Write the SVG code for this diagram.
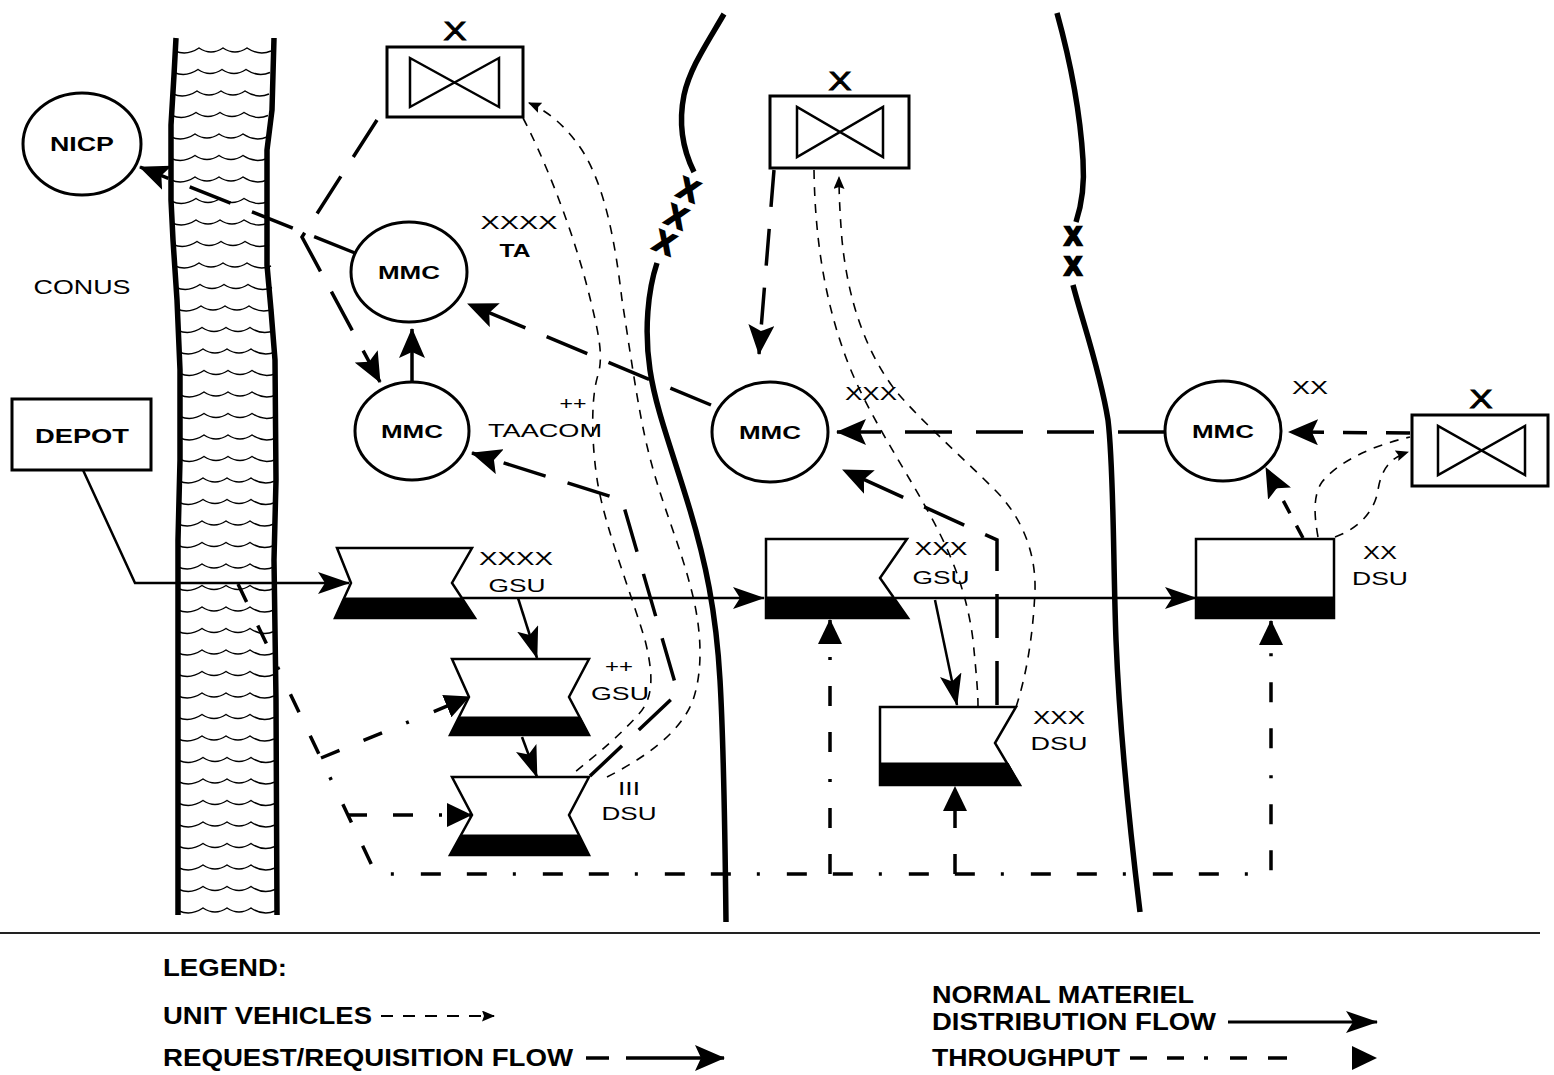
<svg xmlns="http://www.w3.org/2000/svg" xmlns:xlink="http://www.w3.org/1999/xlink" width="1554" height="1075" viewBox="0 0 1554 1075">
<defs>
<style>
.edge{fill:none;stroke:#000;stroke-width:5.5;stroke-linejoin:round}
.bnd{fill:none;stroke:#000;stroke-width:5.5;stroke-linecap:butt}
.node{fill:#fff;stroke:#000;stroke-width:3}
.unit{fill:#fff;stroke:#000;stroke-width:2.5;stroke-linejoin:miter}
.band{fill:#000;stroke:#000;stroke-width:1}
.bow{fill:none;stroke:#000;stroke-width:2.5;stroke-linejoin:miter}
.req{fill:none;stroke:#000;stroke-width:3.5;stroke-dasharray:44 23}
.reqs{fill:none;stroke:#000;stroke-width:3.5}
.flow{fill:none;stroke:#000;stroke-width:2.5}
.thru{fill:none;stroke:#000;stroke-width:3.5;stroke-dasharray:20 26 20 26 3 27}
.uv{fill:none;stroke:#000;stroke-width:1.6;stroke-dasharray:9 8}
.rule{stroke:#222;stroke-width:2}
text{font-family:"Liberation Sans",Arial,sans-serif;fill:#000}
.c{text-anchor:middle}
.b{font-weight:bold}
.lbl{font-size:19px}
.mmc{font-size:19px;font-weight:bold}
.ech{font-size:26px;stroke:#000;stroke-width:0.9}
.bx{font-size:30px;font-weight:bold;stroke:#000;stroke-width:2}
.bx2{font-size:25px;font-weight:bold;stroke:#000;stroke-width:2.6}
.leg{font-size:23px;font-weight:bold}
</style>
<marker id="mReq" markerUnits="userSpaceOnUse" markerWidth="30" markerHeight="26" refX="29" refY="13" orient="auto"><path d="M0,0 L30,13 L0,26 L6,13 Z" fill="#000"/></marker>
<marker id="mFlow" markerUnits="userSpaceOnUse" markerWidth="32" markerHeight="22" refX="31" refY="11" orient="auto"><path d="M0,0 L32,11 L0,22 L7,11 Z" fill="#000"/></marker>
<marker id="mThru" markerUnits="userSpaceOnUse" markerWidth="25" markerHeight="24" refX="24" refY="12" orient="auto"><path d="M0,0 L25,12 L0,24 Z" fill="#000"/></marker>
<marker id="mUv" markerUnits="userSpaceOnUse" markerWidth="13" markerHeight="11" refX="12" refY="5.5" orient="auto"><path d="M0,0 L13,5.5 L0,11 L2,5.5 Z" fill="#000"/></marker>
<path id="wave" d="M0,1 Q12,6 24,-2 Q36,6 48,-2 Q60,6 72,-2 Q84,6 96,1" fill="none" stroke="#000" stroke-width="1.5"/>
</defs>
<rect x="0" y="0" width="1554" height="1075" fill="#fff"/>

<g id="ocean">
<path class="edge" d="M176,38 L174,75 L171,125 L171,200 L173,240 L177,300 L180,370 L180,460 L178,540 L178,915"/>
<path class="edge" d="M274,38 L272,110 L267,150 L267,265 L271,310 L275,360 L276,480 L274,560 L276,700 L277,915"/>
<use xlink:href="#wave" x="175" y="50"/>
<use xlink:href="#wave" x="174" y="71.5"/>
<use xlink:href="#wave" x="173" y="93"/>
<use xlink:href="#wave" x="172" y="114.5"/>
<use xlink:href="#wave" x="171" y="136"/>
<use xlink:href="#wave" x="171" y="157.5"/>
<use xlink:href="#wave" x="171" y="179"/>
<use xlink:href="#wave" x="172" y="200.5"/>
<use xlink:href="#wave" x="172" y="222"/>
<use xlink:href="#wave" x="173" y="243.5"/>
<use xlink:href="#wave" x="175" y="265"/>
<use xlink:href="#wave" x="176" y="286.5"/>
<use xlink:href="#wave" x="177" y="308"/>
<use xlink:href="#wave" x="178" y="329.5"/>
<use xlink:href="#wave" x="179" y="351"/>
<use xlink:href="#wave" x="180" y="372.5"/>
<use xlink:href="#wave" x="180" y="394"/>
<use xlink:href="#wave" x="180" y="415.5"/>
<use xlink:href="#wave" x="180" y="437"/>
<use xlink:href="#wave" x="180" y="458.5"/>
<use xlink:href="#wave" x="179" y="480"/>
<use xlink:href="#wave" x="179" y="501.5"/>
<use xlink:href="#wave" x="178" y="523"/>
<use xlink:href="#wave" x="178" y="544.5"/>
<use xlink:href="#wave" x="178" y="566"/>
<use xlink:href="#wave" x="178" y="587.5"/>
<use xlink:href="#wave" x="178" y="609"/>
<use xlink:href="#wave" x="178" y="630.5"/>
<use xlink:href="#wave" x="178" y="652"/>
<use xlink:href="#wave" x="178" y="673.5"/>
<use xlink:href="#wave" x="178" y="695"/>
<use xlink:href="#wave" x="178" y="716.5"/>
<use xlink:href="#wave" x="178" y="738"/>
<use xlink:href="#wave" x="179" y="759.5"/>
<use xlink:href="#wave" x="179" y="781"/>
<use xlink:href="#wave" x="179" y="802.5"/>
<use xlink:href="#wave" x="179" y="824"/>
<use xlink:href="#wave" x="179" y="845.5"/>
<use xlink:href="#wave" x="179" y="867"/>
<use xlink:href="#wave" x="179" y="888.5"/>
<use xlink:href="#wave" x="179" y="910"/>
</g>

<g id="boundary-xxx">
<path class="bnd" d="M724,14 C706,45 690,68 684,95 C678,125 683,150 694,172"/>
<path class="bnd" d="M657,263 C648,290 644,330 650,370 C656,410 672,450 690,510 C705,560 716,610 720,680 C724,750 725,830 726,922"/>
<text class="bx c" x="689" y="200" transform="rotate(22 689 189)">X</text>
<text class="bx c" x="677" y="227" transform="rotate(22 677 216)">X</text>
<text class="bx c" x="665" y="253" transform="rotate(22 665 242)">X</text>
</g>

<g id="boundary-xx">
<path class="bnd" d="M1057,13 C1070,60 1080,110 1083,160 C1085,190 1080,210 1076,222"/>
<path class="bnd" d="M1073,285 C1082,320 1100,370 1108,420 C1114,470 1113,560 1116,640 C1120,740 1130,830 1140,912"/>
<text class="bx2 c" x="1073" y="245">X</text>
<text class="bx2 c" x="1073" y="275">X</text>
</g>

<g id="connectors">
<!-- request / requisition flow -->
<path class="req" d="M355,253 L140,167" marker-end="url(#mReq)"/>
<path class="req" d="M377,120 L302,237 L380,382" marker-end="url(#mReq)"/>
<path class="reqs" d="M412,382 L412,329" marker-end="url(#mReq)"/>
<path class="req" d="M711,405 L468,304" marker-end="url(#mReq)"/>
<path class="req" d="M590,776 L678,693 L622,500 L472,453" marker-end="url(#mReq)"/>
<path class="req" d="M774,170 L759,354" marker-end="url(#mReq)" style="stroke-dasharray:37 22"/>
<path class="req" d="M997,705 L997,540 L843,470" marker-end="url(#mReq)"/>
<path class="req" d="M1410,433 L1289,432" marker-end="url(#mReq)" style="stroke-dasharray:24 19"/>
<path class="req" d="M1165,432 L837,432" marker-end="url(#mReq)" style="stroke-dasharray:47 24"/>
<path class="req" d="M1303,538 L1266,468" marker-end="url(#mReq)" style="stroke-dasharray:14 14"/>
<!-- normal materiel distribution flow -->
<path class="flow" d="M83,470 L135,583 L349,583" marker-end="url(#mFlow)"/>
<path class="flow" d="M460,598 L764,598" marker-end="url(#mFlow)"/>
<path class="flow" d="M895,598 L1196,598" marker-end="url(#mFlow)"/>
<path class="flow" d="M518,598 L537,658" marker-end="url(#mFlow)"/>
<path class="flow" d="M522,737 L537,777" marker-end="url(#mFlow)"/>
<path class="flow" d="M935,600 L957,705" marker-end="url(#mFlow)"/>
<!-- throughput -->
<path class="thru" d="M238,584 L376,874 L1271,874 L1271,621" marker-end="url(#mThru)"/>
<path class="thru" d="M830,874 L830,620" marker-end="url(#mThru)"/>
<path class="thru" d="M955,874 L955,787" marker-end="url(#mThru)"/>
<path class="thru" d="M321,758 L469,697" marker-end="url(#mThru)"/>
<path class="thru" d="M347,815 L471,815" marker-end="url(#mThru)"/>
<!-- unit vehicles -->
<path class="uv" d="M523,118 C540,150 570,220 588,290 C598,330 604,355 598,375 C590,400 592,450 598,485 C606,530 630,590 645,640 C655,680 652,700 638,715 C620,735 600,752 570,776"/>
<path class="uv" d="M607,777 C640,760 680,735 693,700 C705,665 700,620 690,585 C680,545 660,500 648,450 C638,410 630,350 622,300 C615,240 605,190 585,155 C570,130 550,112 529,103" marker-end="url(#mUv)"/>
<path class="uv" d="M814,170 C815,240 825,300 845,355 C865,410 900,460 930,515 C955,560 968,600 973,640 C977,680 978,695 978,706"/>
<path class="uv" d="M1016,707 C1025,680 1033,640 1035,590 C1036,550 1020,515 995,490 C960,455 920,420 895,390 C865,350 848,300 842,240 C840,215 839,195 839,177" marker-end="url(#mUv)"/>
<path class="uv" d="M1318,537 C1314,515 1313,495 1322,482 C1340,460 1375,445 1410,437"/>
<path class="uv" d="M1335,537 C1360,528 1375,510 1378,490 C1381,470 1390,458 1408,452" marker-end="url(#mUv)"/>
</g>

<g id="nicp">
<ellipse class="node" cx="82" cy="144" rx="59" ry="51"/>
<text class="c b" x="82" y="151" font-size="20" textLength="64" lengthAdjust="spacingAndGlyphs">NICP</text>
</g>
<g id="conus">
<text class="c" x="82" y="294" font-size="20" textLength="97" lengthAdjust="spacingAndGlyphs">CONUS</text>
</g>
<g id="depot">
<rect class="node" x="12" y="399" width="139" height="71"/>
<text class="c b" x="82" y="443" font-size="20" textLength="94" lengthAdjust="spacingAndGlyphs">DEPOT</text>
</g>

<g id="bde-ta">
<rect class="node" x="387" y="47" width="136" height="70"/>
<path class="bow" d="M410,58 L410,107 L499,58 L499,107 Z"/>
<text class="c ech" x="455" y="40" textLength="23" lengthAdjust="spacingAndGlyphs">X</text>
</g>
<g id="mmc-ta">
<ellipse class="node" cx="409" cy="272" rx="58" ry="50"/>
<text class="c mmc" x="409" y="279" textLength="62" lengthAdjust="spacingAndGlyphs">MMC</text>
<text class="c lbl" x="519" y="229" textLength="77" lengthAdjust="spacingAndGlyphs">XXXX</text>
<text class="c lbl b" x="515" y="257" textLength="31" lengthAdjust="spacingAndGlyphs">TA</text>
</g>
<g id="mmc-taacom">
<ellipse class="node" cx="412" cy="431" rx="57" ry="49"/>
<text class="c mmc" x="412" y="438" textLength="62" lengthAdjust="spacingAndGlyphs">MMC</text>
<text class="c lbl" x="573" y="410" textLength="27" lengthAdjust="spacingAndGlyphs">++</text>
<text class="c lbl" x="545" y="437" textLength="114" lengthAdjust="spacingAndGlyphs">TAACOM</text>
</g>

<g id="bde-xxx">
<rect class="node" x="770" y="96" width="139" height="72"/>
<path class="bow" d="M797,107 L797,157 L883,107 L883,157 Z"/>
<text class="c ech" x="840" y="90" textLength="23" lengthAdjust="spacingAndGlyphs">X</text>
</g>
<g id="mmc-xxx">
<ellipse class="node" cx="770" cy="432" rx="58" ry="50"/>
<text class="c mmc" x="770" y="439" textLength="62" lengthAdjust="spacingAndGlyphs">MMC</text>
<text class="c lbl" x="871" y="400" textLength="52" lengthAdjust="spacingAndGlyphs">XXX</text>
</g>

<g id="mmc-xx">
<ellipse class="node" cx="1223" cy="431" rx="58" ry="50"/>
<text class="c mmc" x="1223" y="438" textLength="62" lengthAdjust="spacingAndGlyphs">MMC</text>
<text class="c lbl" x="1310" y="394" textLength="36" lengthAdjust="spacingAndGlyphs">XX</text>
</g>
<g id="bde-xx">
<rect class="node" x="1412" y="415" width="136" height="71"/>
<path class="bow" d="M1438,426 L1438,475 L1525,426 L1525,475 Z"/>
<text class="c ech" x="1481" y="408" textLength="23" lengthAdjust="spacingAndGlyphs">X</text>
</g>

<g id="gsu-xxxx">
<polygon class="unit" points="337,548 472,548 452,583 475,618 335,618 351,583"/>
<polygon class="band" points="344,598 462,598 475,618 335,618"/>
<text class="c lbl" x="516" y="565" textLength="74" lengthAdjust="spacingAndGlyphs">XXXX</text>
<text class="c lbl" x="517" y="592" textLength="57" lengthAdjust="spacingAndGlyphs">GSU</text>
</g>
<g id="gsu-pp">
<polygon class="unit" points="452,659 589,659 569,697 589,735 450,735 469,697"/>
<polygon class="band" points="459,717 580,717 589,735 450,735"/>
<text class="c lbl" x="619" y="673" textLength="28" lengthAdjust="spacingAndGlyphs">++</text>
<text class="c lbl" x="620" y="700" textLength="58" lengthAdjust="spacingAndGlyphs">GSU</text>
</g>
<g id="dsu-iii">
<polygon class="unit" points="452,777 589,777 569,815 589,855 450,855 472,815"/>
<polygon class="band" points="461,835 579,835 589,855 450,855"/>
<text class="c lbl" x="629" y="795" textLength="22" lengthAdjust="spacingAndGlyphs">III</text>
<text class="c lbl" x="629" y="820" textLength="55" lengthAdjust="spacingAndGlyphs">DSU</text>
</g>
<g id="gsu-xxx">
<polygon class="unit" points="766,539 907,539 880,578 908,618 766,618"/>
<polygon class="band" points="766,597 893,597 908,618 766,618"/>
<text class="c lbl" x="941" y="555" textLength="53" lengthAdjust="spacingAndGlyphs">XXX</text>
<text class="c lbl" x="941" y="584" textLength="57" lengthAdjust="spacingAndGlyphs">GSU</text>
</g>
<g id="dsu-xxx">
<polygon class="unit" points="880,707 1016,707 995,743 1020,785 880,785"/>
<polygon class="band" points="880,763 1008,763 1020,785 880,785"/>
<text class="c lbl" x="1059" y="724" textLength="52" lengthAdjust="spacingAndGlyphs">XXX</text>
<text class="c lbl" x="1059" y="750" textLength="57" lengthAdjust="spacingAndGlyphs">DSU</text>
</g>
<g id="dsu-xx">
<rect class="unit" x="1196" y="539" width="138" height="79"/>
<rect class="band" x="1196" y="597" width="138" height="21"/>
<text class="c lbl" x="1380" y="559" textLength="34" lengthAdjust="spacingAndGlyphs">XX</text>
<text class="c lbl" x="1380" y="585" textLength="56" lengthAdjust="spacingAndGlyphs">DSU</text>
</g>

<g id="legend">
<line class="rule" x1="0" y1="933" x2="1540" y2="933"/>
<text class="leg" x="163" y="976" textLength="124" lengthAdjust="spacingAndGlyphs">LEGEND:</text>
<text class="leg" x="163" y="1024" textLength="209" lengthAdjust="spacingAndGlyphs">UNIT VEHICLES</text>
<path class="uv" d="M381,1016 L494,1016" style="stroke-dasharray:12 10;stroke-width:2" marker-end="url(#mUv)"/>
<text class="leg" x="163" y="1066" textLength="410" lengthAdjust="spacingAndGlyphs">REQUEST/REQUISITION FLOW</text>
<line class="reqs" x1="586" y1="1058" x2="609" y2="1058"/>
<path class="reqs" d="M626,1058 L724,1058" marker-end="url(#mReq)"/>
<text class="leg" x="932" y="1003" textLength="262" lengthAdjust="spacingAndGlyphs">NORMAL MATERIEL</text>
<text class="leg" x="932" y="1030" textLength="284" lengthAdjust="spacingAndGlyphs">DISTRIBUTION FLOW</text>
<path class="flow" d="M1228,1022 L1377,1022" style="stroke-width:3" marker-end="url(#mFlow)"/>
<text class="leg" x="932" y="1066" textLength="188" lengthAdjust="spacingAndGlyphs">THROUGHPUT</text>
<path class="thru" d="M1130,1058 L1290,1058" style="stroke-dasharray:17 20 17 20 4 22 17 21 19 40"/>
<path d="M1352,1046 L1377,1058 L1352,1070 Z" fill="#000"/>
</g>
</svg>
